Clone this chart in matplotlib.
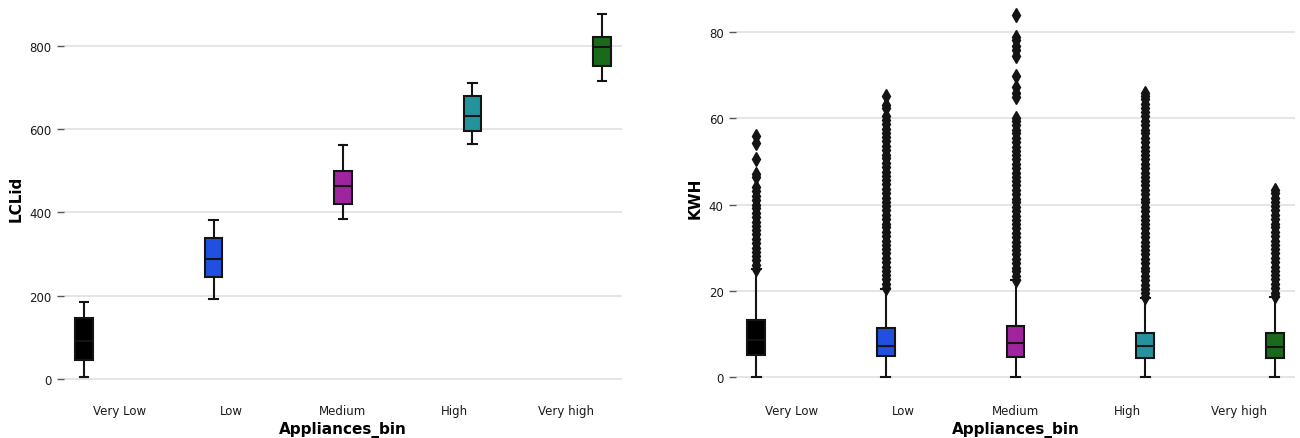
import matplotlib
matplotlib.use("Agg")
import matplotlib.pyplot as plt

# -----------------------------
# Data
# -----------------------------

bins = ["Very Low", "Low", "Medium", "High", "Very high"]
colors = ["#000000", "#2150e0", "#a024a0", "#23949f", "#1b6a1b"]

# LCLid per appliance bin: (whislo, q1, median, q3, whishi)
lclid_lo = [4, 193, 384, 565, 717]
lclid_q1 = [46, 246, 420, 596, 753]
lclid_med = [90, 288, 464, 632, 798]
lclid_q3 = [147, 339, 500, 681, 822]
lclid_hi = [186, 383, 562, 710, 877]

# KWH per appliance bin
kwh_lo = [0, 0, 0, 0, 0]
kwh_q1 = [5.2, 4.95, 4.6, 4.4, 4.4]
kwh_med = [8.7, 7.3, 7.9, 7.2, 6.9]
kwh_q3 = [13.3, 11.3, 11.8, 10.2, 10.2]
kwh_hi = [25.0, 20.5, 22.4, 18.4, 18.6]

# KWH outliers
fliers_very_low = [25.1, 26.0, 27.1, 28.0, 29.1, 30.0, 31.1, 32.0, 33.1, 34.0,
                   35.1, 36.0, 37.1, 38.0, 39.1, 40.0, 41.1, 42.0, 43.1, 44.2,
                   46.3, 47.2, 50.6, 54.3, 55.9]
fliers_low = [20.7, 21.6, 22.7, 23.6, 24.7, 25.6, 26.7, 27.6, 28.7, 29.6,
              30.7, 31.6, 32.7, 33.6, 34.7, 35.6, 36.7, 37.6, 38.7, 39.6,
              40.7, 41.6, 42.7, 43.6, 44.7, 45.6, 46.7, 47.6, 48.7, 49.6,
              50.7, 51.6, 52.7, 53.6, 54.7, 55.6, 56.7, 57.6, 58.7, 59.6,
              60.6, 62.3, 63.1, 65.3]
fliers_medium = [22.5, 23.4, 24.5, 25.4, 26.5, 27.4, 28.5, 29.4, 30.5, 31.4,
                 32.5, 33.4, 34.5, 35.4, 36.5, 37.4, 38.5, 39.4, 40.5, 41.4,
                 42.5, 43.4, 44.5, 45.4, 46.5, 47.4, 48.5, 49.4, 50.5, 51.4,
                 52.5, 53.4, 54.5, 55.4, 56.5, 57.4, 58.5, 59.4, 60.2, 64.9,
                 65.8, 67.2, 69.8, 74.4, 75.8, 76.9, 78.3, 78.9, 84.1]
fliers_high = [18.5, 19.4, 20.5, 21.4, 22.5, 23.4, 24.5, 25.4, 26.5, 27.4,
               28.5, 29.4, 30.5, 31.4, 32.5, 33.4, 34.5, 35.4, 36.5, 37.4,
               38.5, 39.4, 40.5, 41.4, 42.5, 43.4, 44.5, 45.4, 46.5, 47.4,
               48.5, 49.4, 50.5, 51.4, 52.5, 53.4, 54.5, 55.4, 56.5, 57.4,
               58.5, 59.4, 60.5, 61.4, 62.5, 63.4, 64.5, 65.3, 66.0]
fliers_very_high = [18.7, 19.6, 20.7, 21.6, 22.7, 23.6, 24.7, 25.6, 26.7, 27.6,
                    28.7, 29.6, 30.7, 31.6, 32.7, 33.6, 34.7, 35.6, 36.7, 37.6,
                    38.7, 39.6, 40.7, 41.6, 42.7, 43.4]
kwh_fliers = [fliers_very_low, fliers_low, fliers_medium, fliers_high, fliers_very_high]

# -----------------------------
# Helpers
# -----------------------------

edge = "#141414"
n = len(bins)
box_w = 0.8 / n
offsets = [-0.4 + box_w * (i + 0.5) for i in range(n)]


def draw_boxes(ax, lo, q1, med, q3, hi, fliers=None):
    stats = []
    for i in range(n):
        stats.append({
            "whislo": lo[i], "q1": q1[i], "med": med[i], "q3": q3[i], "whishi": hi[i],
            "fliers": fliers[i] if fliers else [],
        })
    pos = [i + offsets[i] for i in range(n)]
    bp = ax.bxp(stats, positions=pos, widths=box_w * 0.98, patch_artist=True,
                showfliers=True, manage_ticks=False,
                boxprops=dict(edgecolor=edge, linewidth=1.5),
                medianprops=dict(color=edge, linewidth=1.5),
                whiskerprops=dict(color=edge, linewidth=1.5),
                capprops=dict(color=edge, linewidth=1.5),
                flierprops=dict(marker="d", markersize=7, markerfacecolor=edge,
                                markeredgecolor=edge, linestyle="none"))
    for patch, c in zip(bp["boxes"], colors):
        patch.set_facecolor(c)


def style_axes(ax, ylabel, yticks, ylim):
    ax.set_xlim(-0.5, 4.5)
    ax.set_ylim(*ylim)
    ax.set_xticks(range(n))
    ax.set_xticklabels(bins)
    ax.set_yticks(yticks)
    for s in ax.spines.values():
        s.set_visible(False)
    ax.set_axisbelow(True)
    ax.yaxis.grid(True, color="#e0e0e0", linewidth=1.2)
    ax.tick_params(axis="x", length=0, pad=6, labelsize=8.5, labelcolor="#1a1a1a")
    ax.tick_params(axis="y", length=5, width=1, color="#555555", pad=4,
                   labelsize=8.5, labelcolor="#1a1a1a")
    ax.set_xlabel("Appliances_bin", fontsize=11, fontweight="bold", labelpad=3)
    ax.set_ylabel(ylabel, fontsize=11, fontweight="bold", labelpad=4)


# -----------------------------
# Plot
# -----------------------------

fig = plt.figure(figsize=(13, 4.39), dpi=100)
ax1 = fig.add_axes([64 / 1300, 1 - 397 / 439, 558 / 1300, 397 / 439])
ax2 = fig.add_axes([736 / 1300, 1 - 397 / 439, 559 / 1300, 397 / 439])

draw_boxes(ax1, lclid_lo, lclid_q1, lclid_med, lclid_q3, lclid_hi)
style_axes(ax1, "LCLid", [0, 200, 400, 600, 800], (-41, 913))

draw_boxes(ax2, kwh_lo, kwh_q1, kwh_med, kwh_q3, kwh_hi, kwh_fliers)
style_axes(ax2, "KWH", [0, 20, 40, 60, 80], (-4.4, 87.7))

fig.savefig("out.png", dpi=100)
plt.close(fig)
